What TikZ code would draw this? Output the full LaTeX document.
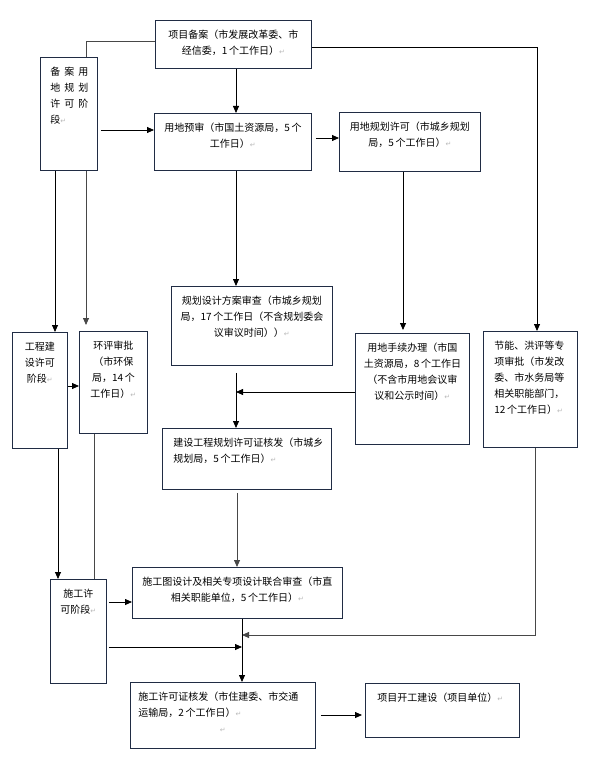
\documentclass[tikz,border=0pt]{standalone}
\usepackage{fontspec}
\setmainfont{Noto Sans CJK SC}
\newfontfamily\symfont{DejaVu Sans}
\usetikzlibrary{arrows.meta,calc}

\definecolor{boxc}{RGB}{32,44,68}
\definecolor{linec}{RGB}{72,72,72}
\newcommand{\parmark}{{\symfont\color{gray!55}\fontsize{7pt}{7pt}\selectfont ↵}}
\newcommand{\gp}{\hspace{4pt}}
\newcommand{\ctxt}[3]{\parbox[t][#2][t]{#1}{\fontsize{10pt}{16pt}\selectfont
  \vspace*{10pt}\centering #3\par}}
\newcommand{\ltxt}[4]{\parbox[t][#2][t]{#1}{\fontsize{10pt}{16pt}\selectfont
  \vspace*{10pt}\raggedright\leftskip=#3\relax #4\par}}

\begin{document}
\begin{tikzpicture}[
    x=1pt,y=-1pt,
    box/.style={draw=boxc,line width=0.8pt,inner sep=0pt,anchor=north west},
    trans/.style={-{Triangle[length=7pt,width=6pt]},line width=0.8pt},
    link/.style={line width=0.8pt,draw=linec}
  ]
    \useasboundingbox (0,0) rectangle (591,759);

    \node[box] (xmba) at (155,20) {\ctxt{156pt}{48pt}{项目备案（市发展改革委、市\\经信委，1\,个工作日）\parmark}};
    \node[box] (bayd) at (40,57) {\ltxt{57pt}{113pt}{10pt}{备\gp 案\gp 用\\地\gp 规\gp 划\\许\gp 可\gp 阶\\段\parmark}};
    \node[box] (ydys) at (154,113) {\ctxt{157pt}{57pt}{用地预审（市国土资源局，5\,个\\工作日）\parmark}};
    \node[box] (ydgh) at (339,112) {\ctxt{141pt}{59pt}{用地规划许可（市城乡规划\\局，5\,个工作日）\parmark}};
    \node[box] (ghsj) at (171,286) {\ctxt{161pt}{79pt}{规划设计方案审查（市城乡规划\\局，17\,个工作日（不含规划委会\\议审议时间））\parmark}};
    \node[box] (ydsx) at (355,333) {\ctxt{114pt}{111pt}{用地手续办理（市国\\土资源局，8\,个工作日\\（不含市用地会议审\\议和公示时间）\parmark}};
    \node[box] (jnsp) at (483,331) {\ltxt{94pt}{116pt}{11pt}{节能、洪评等专\\项审批（市发改\\委、市水务局等\\相关职能部门，\\12\,个工作日）\parmark}};
    \node[box] (gcjs) at (12,332) {\ctxt{55pt}{116pt}{工程建\\设许可\\阶段\parmark}};
    \node[box] (hpsp) at (79,331) {\ctxt{68pt}{102pt}{环评审批\\（市环保\\局，14\,个\\工作日）\parmark}};
    \node[box] (jsgh) at (162,428) {\ltxt{169pt}{61pt}{11pt}{建设工程规划许可证核发（市城乡\\规划局，5\,个工作日）\parmark}};
    \node[box] (sgt) at (132,567) {\ctxt{210pt}{51pt}{施工图设计及相关专项设计联合审查（市直\\相关职能单位，5\,个工作日）\parmark}};
    \node[box] (sgxk) at (50,579) {\ctxt{56pt}{104pt}{施工许\\可阶段\parmark}};
    \node[box] (sgzh) at (130,682) {\ltxt{185pt}{66pt}{8pt}{施工许可证核发（市住建委、市交通\\运输局，2\,个工作日）\parmark\par\centering\parmark}};
    \node[box] (kgjs) at (365,683) {\ltxt{154pt}{54pt}{12pt}{项目开工建设（项目单位）\parmark}};

    %% junction points on the main line
    \coordinate (ja) at (236,392);
    \coordinate (jb) at (242,635);
    \coordinate (jc) at (242,647);

    %% from the filing
    \draw[trans] (xmba.south -| 236,0) -- (ydys.north -| 236,0);
    \draw[link] (xmba.west |- 0,41) -| (bayd.north -| 86,0);
    \draw[trans] (xmba.east |- 0,47) -| (jnsp.north -| 537,0);

    %% land use stage
    \draw[trans,shorten <=3pt] (bayd.east |- 0,130) -- (ydys.west |- 0,130);
    \draw[trans,shorten <=4pt] (ydys.east |- 0,138) -- (ydgh.west |- 0,138);
    \draw[trans] (ydys.south -| 236,0) -- (ghsj.north -| 236,0);
    \draw[trans,shorten >=3pt] (ydgh.south -| 403,0) -- (ydsx.north -| 403,0);
    \draw[trans] (bayd.south -| 55,0) -- (gcjs.north -| 55,0);
    \draw[trans,draw=linec,shorten >=6pt] (bayd.south -| 86,0) -- (hpsp.north -| 86,0);

    %% engineering stage
    \draw[trans] (gcjs.east |- 0,386) -- (hpsp.west |- 0,386);
    \draw[trans,shorten <=7pt] (ghsj.south -| 236,0) -- (jsgh.north -| 236,0);
    \draw[trans] (ydsx.west |- 0,392) -- (ja);
    \draw[trans,draw=linec,shorten <=3pt] (jsgh.south -| 237,0) -- (sgt.north -| 237,0);
    \draw[trans] (gcjs.south -| 58,0) -- (sgxk.north -| 58,0);
    \draw[link] (hpsp.south -| 94,0) -- (sgxk.north -| 94,0);

    %% construction stage
    \draw[trans,shorten <=2pt] (sgxk.east |- 0,602) -- (sgt.west |- 0,602);
    \draw[trans,shorten <=2pt] (sgxk.east |- 0,647) -- (jc);
    \draw[trans,draw=linec] (jnsp.south -| 535,0) |- (jb);
    \draw[trans] (sgt.south -| 242,0) -- (sgzh.north -| 242,0);
    \draw[trans,shorten <=5pt,shorten >=3pt] (sgzh.east |- 0,715) -- (kgjs.west |- 0,715);
  \end{tikzpicture}
\end{document}
